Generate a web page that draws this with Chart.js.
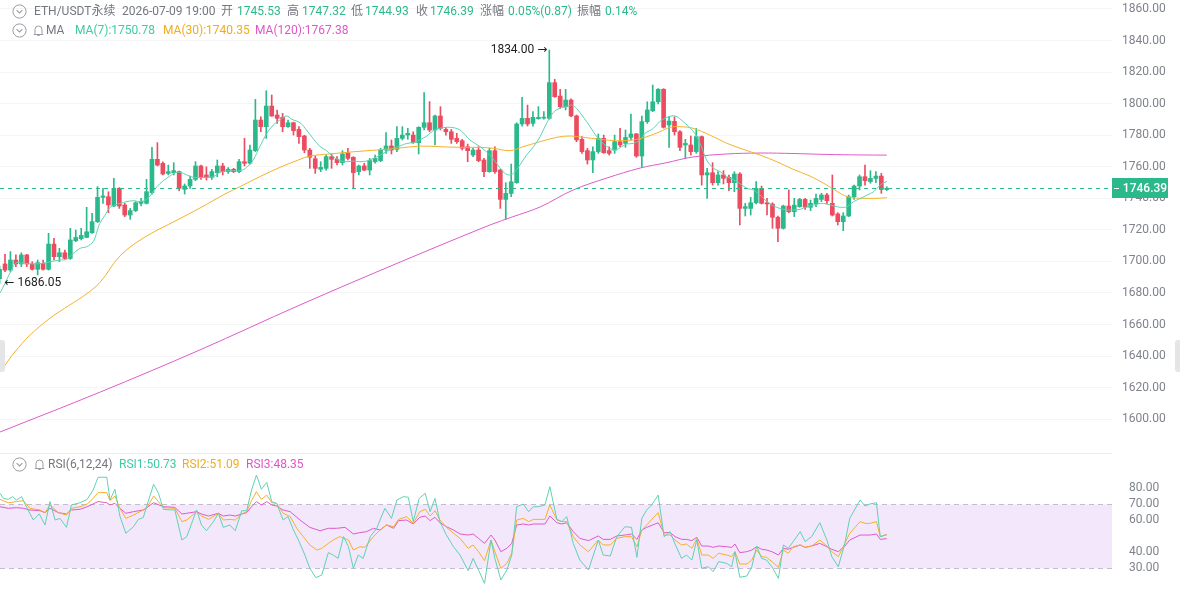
<!DOCTYPE html>
<html><head><meta charset="utf-8">
<script src="https://cdn.jsdelivr.net/npm/chart.js@4.4.1/dist/chart.umd.min.js"></script>
<style>
html,body{margin:0;padding:0;background:#fff;width:1180px;height:590px;overflow:hidden;font-family:Roboto,"Noto Sans CJK SC",sans-serif;}
#mainBox{position:absolute;left:0;top:0;width:1180px;height:452px;}
#rsiBox{position:absolute;left:0;top:452px;width:1180px;height:138px;}
.t{position:absolute;font-size:12px;line-height:14px;white-space:nowrap;color:#74777f;}
.g{color:#2bb98b}.c7{color:#3fcca5}.c30{color:#f2ac1b}.c120{color:#e056c7}
.icon{position:absolute;}
.tab{position:absolute;top:340px;width:5px;height:32px;background:#e4e5e7;}
</style></head>
<body>
<div id="mainBox"><canvas id="main"></canvas></div>
<div id="rsiBox"><canvas id="rsi"></canvas></div>

<svg class="icon" style="left:12px;top:4px" width="15" height="15" viewBox="0 0 15 15"><circle cx="7.5" cy="7.5" r="6.6" fill="none" stroke="#9a9ca3" stroke-width="1"/><polyline points="4.6,6.2 7.5,9 10.4,6.2" fill="none" stroke="#9a9ca3" stroke-width="1.1"/></svg>
<span class="t" style="left:34px;top:4px">ETH/USDT永续</span>
<span class="t" style="left:122px;top:4px">2026-07-09 19:00</span>
<span class="t" style="left:221px;top:4px">开</span><span class="t g" style="left:237px;top:4px">1745.53</span>
<span class="t" style="left:287px;top:4px">高</span><span class="t g" style="left:302px;top:4px">1747.32</span>
<span class="t" style="left:351px;top:4px">低</span><span class="t g" style="left:365px;top:4px">1744.93</span>
<span class="t" style="left:416px;top:4px">收</span><span class="t g" style="left:430px;top:4px">1746.39</span>
<span class="t" style="left:480px;top:4px">涨幅</span><span class="t g" style="left:508px;top:4px">0.05%(0.87)</span>
<span class="t" style="left:577px;top:4px">振幅</span><span class="t g" style="left:605px;top:4px">0.14%</span>

<svg class="icon" style="left:12px;top:23px" width="15" height="15" viewBox="0 0 15 15"><circle cx="7.5" cy="7.5" r="6.6" fill="none" stroke="#9a9ca3" stroke-width="1"/><polyline points="4.6,6.2 7.5,9 10.4,6.2" fill="none" stroke="#9a9ca3" stroke-width="1.1"/></svg>
<svg class="icon" style="left:33px;top:24px" width="11" height="13" viewBox="0 0 11 13"><path d="M2 9.5 V5.5 A3.5 3.5 0 0 1 9 5.5 V9.5 L10 10.5 H1 Z" fill="none" stroke="#9a9ca3" stroke-width="1"/><path d="M4.3 11.5 H6.7" stroke="#9a9ca3" stroke-width="1"/></svg>
<span class="t" style="left:46px;top:23px">MA</span>
<span class="t c7" style="left:75px;top:23px">MA(7):1750.78</span>
<span class="t c30" style="left:163px;top:23px">MA(30):1740.35</span>
<span class="t c120" style="left:255px;top:23px">MA(120):1767.38</span>

<svg class="icon" style="left:12px;top:457px" width="15" height="15" viewBox="0 0 15 15"><circle cx="7.5" cy="7.5" r="6.6" fill="none" stroke="#9a9ca3" stroke-width="1"/><polyline points="4.6,6.2 7.5,9 10.4,6.2" fill="none" stroke="#9a9ca3" stroke-width="1.1"/></svg>
<svg class="icon" style="left:34px;top:458px" width="11" height="13" viewBox="0 0 11 13"><path d="M2 9.5 V5.5 A3.5 3.5 0 0 1 9 5.5 V9.5 L10 10.5 H1 Z" fill="none" stroke="#9a9ca3" stroke-width="1"/><path d="M4.3 11.5 H6.7" stroke="#9a9ca3" stroke-width="1"/></svg>
<span class="t" style="left:48px;top:457px">RSI(6,12,24)</span>
<span class="t c7" style="left:119px;top:457px">RSI1:50.73</span>
<span class="t c30" style="left:182px;top:457px">RSI2:51.09</span>
<span class="t c120" style="left:246px;top:457px">RSI3:48.35</span>

<div class="tab" style="left:0;border-radius:0 3px 3px 0"></div>
<div class="tab" style="left:1175px;border-radius:3px 0 0 3px"></div>

<script>
// ---------- data ----------
const openP = [1689,1698.4,1694.5,1700.9,1698.4,1704.1,1698.4,1695.0,1698.8,1695.0,
1711.0,1703.0,1705.5,1701.9,1713.1,1714.4,1715.2,1718.2,1725.2,1740.6,
1741.0,1735.1,1746.3,1735.8,1729.4,1732.2,1736.8,1736.8,1743.6,1764.7,
1762.2,1755.8,1756.2,1756.9,1745.7,1747.8,1752.0,1760.5,1754.8,1753.3,
1756.2,1760.5,1756.9,1758.4,1756.9,1763.2,1762.2,1770.2,1789.6,1785.4,
1798.5,1792.8,1791.3,1785.4,1787.9,1783.7,1779.5,1770.6,1765.1,1758.4,
1759.0,1766.4,1764.7,1762.6,1768.9,1766.0,1756.9,1760.5,1757.9,1763.2,
1763.9,1770.6,1773.2,1771.0,1778.0,1780.1,1780.1,1775.3,1785.0,1787.9,
1783.3,1792.2,1783.7,1782.2,1778.0,1776.5,1772.7,1767.4,1770.6,1764.3,
1756.9,1770.2,1757.9,1739.3,1743.1,1749.9,1787.1,1790.7,1787.5,1790.5,
1790.8,1790.7,1813.3,1804.8,1798.1,1802.3,1792.2,1777.4,1770.2,1764.3,
1769.6,1778.0,1770.2,1770.6,1775.9,1774.8,1778.6,1780.8,1766.8,1788.6,
1795.5,1801.2,1809.1,1786.5,1788.8,1782.2,1773.8,1773.8,1769.6,1779.1,
1754.8,1756.2,1749.9,1754.8,1753.3,1749.9,1755.4,1733.6,1733.6,1737.2,
1746.3,1737.2,1736.4,1728.0,1721.0,1735.1,1731.5,1734.7,1739.3,1734.3,
1736.4,1739.3,1742.1,1736.8,1730.1,1725.2,1728.8,1741.0,1747.8,1753.7,
1750.6,1752.6,1754.1,1745.53];
const highP = [1697,1704.5,1706.2,1704.1,1705.5,1704.5,1699.8,1700.9,1700.9,1717.8,
1714.6,1708.3,1707.2,1721.0,1719.9,1721.0,1734.3,1730.5,1747.4,1746.3,
1744.2,1752.7,1746.8,1736.8,1733.6,1737.9,1740.0,1752.0,1772.3,1775.3,
1763.2,1761.1,1762.6,1757.3,1749.1,1754.1,1763.2,1761.1,1760.0,1758.4,
1764.3,1762.2,1759.5,1759.0,1764.7,1778.0,1773.8,1802.7,1791.7,1808.2,
1805.5,1796.0,1793.9,1789.6,1788.3,1785.4,1780.0,1771.7,1766.8,1763.2,
1767.4,1768.1,1766.4,1770.2,1771.7,1766.4,1761.1,1762.2,1765.3,1767.4,
1771.7,1781.6,1777.0,1785.4,1785.4,1784.4,1782.2,1785.4,1807.0,1801.3,
1792.8,1798.1,1785.0,1783.7,1781.2,1777.4,1774.4,1771.7,1772.7,1765.3,
1771.7,1772.7,1758.4,1749.9,1761.7,1787.9,1804.0,1799.1,1794.9,1798.1,
1794.9,1834.0,1815.4,1809.1,1809.1,1803.0,1792.8,1779.1,1771.7,1772.7,
1780.8,1780.1,1772.7,1780.1,1784.3,1783.3,1793.4,1781.2,1792.2,1801.2,
1811.8,1809.5,1809.5,1792.0,1791.7,1783.0,1777.4,1779.5,1784.3,1779.5,
1759.0,1762.6,1756.9,1757.5,1754.8,1756.9,1756.3,1736.8,1740.6,1750.6,
1747.8,1740.0,1737.2,1728.8,1735.7,1745.3,1740.0,1740.0,1740.0,1738.9,
1742.7,1743.2,1743.2,1754.8,1730.9,1730.9,1742.1,1748.4,1754.8,1761.1,
1757.5,1756.9,1755.8,1747.32];
const lowP = [1686.05,1693.5,1693.5,1696.7,1696.7,1696.7,1694.5,1691.4,1694.5,1694.5,
1700.9,1699.8,1701.3,1701.3,1712.5,1713.6,1715.0,1717.8,1724.6,1736.8,
1730.9,1734.7,1733.6,1728.4,1726.7,1731.5,1735.1,1736.4,1742.7,1760.5,
1754.8,1754.8,1754.8,1744.8,1742.7,1746.3,1751.2,1752.0,1751.6,1752.0,
1753.7,1754.8,1755.8,1756.3,1756.3,1760.5,1761.7,1769.6,1782.2,1778.0,
1791.9,1787.5,1782.2,1785.0,1780.1,1774.8,1768.9,1759.0,1755.8,1756.9,
1757.9,1759.0,1761.1,1761.1,1764.3,1746.3,1754.8,1757.5,1754.8,1762.2,
1763.2,1768.5,1768.1,1769.6,1777.0,1777.4,1774.8,1768.1,1783.3,1782.2,
1773.8,1783.3,1780.1,1774.8,1774.8,1770.6,1763.2,1766.4,1763.2,1753.7,
1756.5,1755.8,1733.6,1726.7,1741.0,1749.5,1785.8,1785.8,1785.8,1790.1,
1790.1,1790.1,1804.0,1797.0,1796.0,1791.7,1775.9,1768.5,1761.7,1756.2,
1768.5,1768.5,1767.4,1768.5,1772.7,1772.3,1777.0,1766.0,1759.6,1787.5,
1794.9,1799.8,1784.5,1772.3,1780.1,1770.2,1765.3,1767.4,1768.5,1748.4,
1740.0,1748.4,1748.4,1749.1,1744.8,1744.2,1723.1,1728.8,1729.4,1736.4,
1736.4,1729.4,1721.0,1712.5,1720.5,1730.9,1728.4,1734.3,1733.0,1732.2,
1734.7,1737.9,1736.4,1728.8,1723.1,1719.5,1728.4,1739.3,1745.3,1748.4,
1749.5,1749.9,1743.2,1744.93];
const closeP = [1695,1694.5,1700.9,1698.4,1704.1,1698.4,1695.0,1699.2,1695.0,1711.0,
1703.0,1705.5,1701.9,1713.6,1715.2,1716.5,1718.8,1725.2,1740.6,1741.5,
1735.8,1746.3,1735.1,1729.4,1732.2,1737.2,1738.1,1744.2,1764.7,1761.1,
1755.4,1756.9,1757.5,1746.3,1747.8,1752.0,1760.5,1753.3,1753.3,1756.9,
1760.5,1756.9,1758.4,1756.9,1763.2,1762.2,1770.6,1789.6,1785.4,1798.5,
1792.2,1790.7,1785.4,1787.9,1782.9,1779.1,1770.6,1766.0,1759.0,1759.6,
1766.4,1764.7,1762.6,1768.1,1765.3,1756.3,1760.5,1757.9,1763.9,1765.3,
1770.6,1773.2,1770.6,1778.0,1780.1,1781.2,1775.3,1785.0,1787.9,1783.3,
1792.2,1784.4,1782.2,1777.4,1775.9,1771.7,1770.2,1770.6,1763.9,1756.9,
1770.2,1756.9,1739.3,1743.1,1750.5,1787.1,1790.7,1787.1,1791.3,1791.3,
1791.3,1813.3,1804.4,1798.1,1802.3,1792.2,1777.0,1769.6,1764.3,1769.6,
1778.0,1768.9,1768.5,1775.9,1773.8,1778.6,1780.8,1766.8,1788.6,1796.0,
1801.2,1809.1,1785.0,1789.0,1782.2,1772.3,1774.8,1769.6,1779.1,1754.8,
1756.2,1749.9,1754.8,1752.7,1749.9,1755.4,1733.6,1734.7,1737.2,1746.3,
1736.8,1736.4,1728.0,1721.0,1735.1,1731.5,1735.7,1739.3,1734.3,1736.8,
1740.0,1742.1,1738.5,1729.4,1725.2,1728.8,1741.0,1747.8,1753.7,1751.2,
1752.6,1754.1,1745.6,1746.39];

// moving averages: [candle position, value]
const ma7 = [[0.1,1680],[1.0,1686.1],[2.5,1696.7],[3.1,1699.2],[4.4,1698.8],[6.2,1698.4],[8.0,1698.8],[9.3,1699.8],[11.1,1700.9],[12.3,1701.3],[13.2,1704.1],[14.8,1708.3],[16.0,1709.3],[17.2,1712.5],[17.8,1717.8],[18.4,1724.1],[19.4,1729.4],[20.3,1734.3],[21.2,1735.8],[22.1,1736.8],[23.4,1737.9],[24.6,1738.5],[25.8,1737.9],[27.0,1739.3],[27.9,1742.7],[28.9,1747.4],[30.1,1751.2],[31.3,1754.1],[32.2,1756.2],[33.1,1756.5],[34.4,1754.8],[35.6,1753.3],[36.8,1753.1],[38.0,1753.3],[39.3,1753.7],[40.5,1756.5],[42.3,1757.5],[44.2,1757.5],[45.4,1759.6],[46.6,1764.3],[47.8,1772.7],[49.1,1781.2],[50.3,1786.5],[51.5,1789.6],[52.7,1792.2],[53.7,1790.1],[55.2,1787.9],[56.4,1783.3],[57.6,1778.0],[58.9,1772.7],[60.1,1770.2],[61.3,1766.4],[62.5,1763.9],[63.8,1763.2],[65.0,1763.6],[66.2,1763.2],[67.4,1763.6],[68.7,1765.3],[69.9,1767.4],[71.1,1769.6],[72.3,1771.7],[73.6,1773.2],[74.8,1774.8],[76.0,1775.3],[77.2,1777.0],[78.5,1779.5],[79.7,1782.9],[80.9,1784.4],[82.8,1785.0],[84.6,1783.3],[86.4,1777.0],[88.3,1772.7],[90.1,1767.4],[91.3,1762.2],[92.5,1756.9],[93.5,1754.8],[94.4,1755.8],[95.6,1761.1],[96.8,1767.4],[98.1,1772.7],[99.3,1779.1],[100.5,1787.5],[101.7,1794.3],[102.9,1797.0],[104.2,1798.1],[105.1,1799.1],[106.0,1797.0],[107.2,1791.7],[108.5,1785.4],[109.7,1779.1],[110.9,1774.8],[112.1,1771.7],[113.1,1770.6],[114.3,1772.7],[115.2,1774.4],[116.4,1774.8],[117.7,1777.0],[118.6,1781.2],[120.1,1784.3],[121.3,1788.6],[122.6,1791.3],[124.1,1792.2],[125.6,1788.6],[127.5,1782.2],[128.7,1774.8],[129.9,1764.3],[131.2,1759.0],[132.4,1756.9],[133.6,1753.7],[134.9,1751.6],[136.1,1749.1],[137.3,1746.3],[138.5,1745.3],[139.7,1742.1],[141.0,1737.9],[142.2,1735.1],[143.4,1733.6],[144.6,1732.6],[145.9,1732.6],[147.1,1733.0],[148.3,1734.7],[149.6,1735.8],[150.8,1736.8],[152.0,1736.4],[153.3,1735.1],[154.5,1734.3],[155.7,1734.7],[156.9,1737.9],[158.2,1740.0],[159.4,1742.1],[160.6,1744.2],[161.8,1748.4],[163.0,1750.78]];
const ma30 = [[0.1,1629.9],[2.8,1642.6],[5.6,1653.3],[9.3,1664.1],[12.9,1672.4],[15.7,1678.7],[18.5,1686.9],[22.1,1703.4],[26.4,1714.8],[32.6,1726.2],[36.8,1733.8],[41.4,1742.7],[44.2,1747.4],[47.8,1753.7],[51.5,1759.6],[55.2,1764.7],[57.0,1766.8],[60.7,1768.1],[65.0,1769.5],[69.3,1770.6],[73.0,1771.7],[77.2,1773.1],[80.9,1772.7],[84.6,1772.3],[88.3,1772.3],[90.7,1771.7],[93.8,1770.2],[96.2,1772.7],[99.3,1775.9],[102.4,1778.7],[104.8,1779.5],[107.2,1778.7],[110.3,1777.4],[113.4,1776.5],[116.4,1777.0],[118.9,1779.0],[121.3,1782.2],[123.2,1785.0],[125.0,1785.4],[127.4,1784.4],[130.5,1780.1],[133.6,1774.9],[136.6,1771.1],[139.7,1767.4],[142.8,1763.2],[145.8,1758.4],[148.9,1754.1],[152.0,1748.4],[154.4,1743.2],[156.2,1740.6],[158.6,1740.0],[161.2,1740.0],[163,1740.35]];
const ma120 = [[0.1,1591.9],[18.5,1617.2],[36.8,1643.9],[55.2,1672.4],[73.6,1699.6],[90.1,1723.1],[94.3,1728.3],[99.3,1734.5],[105.4,1745.3],[111.6,1752.9],[117.7,1759.2],[122.3,1762.4],[127.4,1766.2],[133.6,1768.1],[139.7,1768.7],[145.8,1768.4],[152.0,1767.8],[158.1,1767.5],[163,1767.38]];

// RSI curves: [candle position, value]
const rsi1 = [[0.08,76.7],[0.69,73.5],[1.61,72.9],[2.41,74.6],[3.14,72.5],[4.06,74.6],[4.67,70],[6.2,60],[7.3,63.8],[8.35,56.9],[9.27,71.5],[10.2,60],[11.1,61],[12.3,55.4],[13.2,69.4],[14.8,70.8],[16.1,72.9],[17.2,78.8],[18.1,86.7],[19.7,86.7],[20.3,72.5],[21.2,79.2],[22.1,62.5],[23.2,51.7],[24.6,55.8],[25.5,60.4],[26.4,61.5],[27.3,71.5],[28.3,82.3],[29.2,76.7],[30.1,66.7],[31.3,66.3],[32.2,66.3],[33.5,47.5],[34.4,49.6],[36.2,66.3],[37.1,56.9],[38.0,53.3],[39.3,59],[40.2,64.2],[41.1,55.4],[42.3,56.9],[43.3,53.3],[44.5,65.8],[45.4,65.8],[46.3,78.8],[47.2,88.1],[48.1,79.2],[49.1,83.5],[50.0,71.5],[50.9,70.4],[52.1,60],[53.0,62.1],[54.0,53.75],[54.9,47.5],[56.1,38.1],[57.0,29.8],[58.1,24],[59.2,25.6],[60.4,39.6],[61.3,38.1],[62.2,36],[63.2,49.6],[64.1,43.3],[65.0,29.8],[65.9,38.1],[66.8,36],[68.1,49.6],[69.3,54.8],[69.9,60],[70.8,67.3],[72.0,61],[73.0,72.5],[74.2,74.6],[75.1,74.2],[76.0,59],[77.1,73.5],[78.2,76.7],[79.1,65.2],[80.0,73.5],[80.9,59],[82.1,50.6],[83.4,43.3],[84.6,38.1],[86.1,28.3],[87.0,36],[88.0,28.75],[89.1,20.4],[90.3,47.5],[91.0,36],[92.1,22.5],[93.2,28.75],[94.1,38.1],[95.0,68.3],[96.2,70],[97.2,65.2],[98.1,68.3],[99.0,68.3],[100.2,69.4],[101.1,80.8],[102.4,60.4],[103.3,59],[104.2,62.1],[105.4,45.4],[106.6,35],[108.2,28.75],[110.0,47.5],[110.9,38.1],[112.2,37.5],[113.4,49.6],[114.9,55.8],[116.1,55.4],[117.1,36.7],[118.0,61],[118.9,66.3],[119.8,69.4],[121.0,75.6],[122.1,49.6],[123.2,52.7],[124.1,45],[125.3,36],[126.2,38.1],[127.2,35],[128.1,47.5],[129.0,29.8],[130.2,30.8],[131.1,27.7],[132.1,34],[133.6,32.9],[134.5,30.8],[135.1,40.2],[136.0,24.2],[137.3,25],[138.2,30.8],[139.1,43.75],[140.0,36],[140.9,35],[141.9,30.8],[143.1,23.5],[144.0,44.4],[144.9,42.3],[145.8,46.5],[147.1,52.7],[148.0,46.5],[149.2,49.6],[150.7,58.3],[152.0,47.5],[152.9,37.1],[154.1,30.8],[155.3,45.4],[156.2,61],[158.1,72.5],[159.0,68.75],[159.9,70],[161.1,70.8],[161.8,49.6],[163,50.73]];
const rsi2 = [[0.08,72.9],[1.61,70.8],[3.14,71.5],[4.37,72.1],[5.59,67.3],[7.43,66.25],[8.35,64.6],[9.27,69.4],[10.8,64.6],[12.3,63.1],[13.2,67.3],[14.8,68.3],[16.1,70],[17.2,73.5],[18.1,77.1],[19.7,77.1],[20.3,72.1],[21.2,75],[22.1,67.3],[23.2,61],[24.6,63.1],[25.8,65.2],[27.0,67.3],[28.3,75],[29.2,71.5],[30.1,67.7],[32.2,67.3],[33.5,59],[34.4,60],[36.2,65.2],[37.1,62.5],[38.4,60.4],[40.2,64.2],[41.1,60],[42.3,60.4],[43.3,60],[44.5,63.75],[45.4,65.2],[46.3,72.1],[47.2,77.7],[48.1,72.9],[49.1,75.6],[50.0,70.8],[50.9,70.4],[52.1,64.2],[53.4,62.1],[54.6,54.8],[55.8,49.6],[57.0,44.4],[58.3,41.25],[59.2,42.3],[60.4,45.4],[61.3,47.5],[62.5,49.6],[64.1,47.5],[65.0,41.25],[66.2,43.3],[67.1,42.9],[68.7,49.6],[69.9,53.75],[71.1,56.9],[72.4,55.8],[73.3,60.4],[74.8,62.1],[76.0,57.9],[77.2,65.2],[78.2,66.7],[79.1,62.5],[80.0,65.8],[80.9,60],[82.1,55.4],[83.4,51.7],[84.6,48.5],[86.1,42.3],[87.0,44.4],[88.0,40.2],[89.1,34.6],[90.3,47.5],[91.0,40.2],[92.1,29.8],[93.2,32.9],[94.1,39.2],[95.0,60],[96.2,61],[97.2,59],[98.1,60.4],[100.2,60.4],[101.1,69.4],[102.4,60],[103.3,59],[104.2,59],[105.4,49.6],[106.6,44.4],[108.2,40.2],[110.0,47.5],[110.9,44.4],[112.2,44.4],[113.4,48.5],[114.9,49.6],[116.1,49.6],[117.1,43.3],[118.0,53.75],[118.9,56.9],[121.0,64.6],[122.1,50.6],[123.2,50.6],[124.1,47.5],[125.3,44.4],[126.2,45],[127.2,42.3],[128.1,48.5],[129.0,38.1],[130.2,38.1],[131.1,36],[132.1,39.2],[133.6,38.1],[134.5,37.1],[135.1,40.2],[136.0,32.5],[137.3,32.5],[138.2,35],[139.1,41.25],[140.0,37.1],[140.9,36.7],[141.9,34],[143.1,30.4],[144.0,41.25],[144.9,39.2],[145.8,43.3],[147.1,44.4],[148.0,42.9],[149.2,43.75],[150.7,47.5],[152.0,43.75],[152.9,40.2],[154.1,37.1],[155.3,45.4],[156.2,51.7],[158.1,59],[159.0,57.9],[159.9,57.9],[161.1,59],[161.8,49.6],[163,51.09]];
const rsi3 = [[0.08,68.3],[1.61,67.3],[3.14,67.7],[4.37,67.3],[5.59,66.25],[7.43,65.8],[8.35,64.6],[9.27,67.3],[10.8,64.6],[12.3,63.75],[13.2,66.25],[14.8,66.7],[16.1,68.3],[18.1,71.5],[19.7,70.8],[20.3,69.4],[21.2,70.4],[22.1,67.3],[23.2,64.2],[24.6,65.2],[26.4,66.25],[28.3,70.8],[30.1,68.3],[32.2,67.9],[33.5,63.75],[34.4,64.2],[36.2,65.2],[37.1,63.75],[38.4,62.5],[40.2,64.2],[41.1,62.5],[42.3,63.1],[43.3,62.5],[44.5,63.75],[45.4,64.6],[46.3,68.3],[47.2,71.5],[48.1,69.4],[49.1,71.5],[50.0,69.4],[50.9,68.75],[52.1,66.25],[53.4,65.2],[55.2,60],[57.0,55.4],[58.9,53.3],[60.4,54.8],[61.9,54.8],[63.5,55.4],[65.0,51.25],[66.2,52.1],[67.4,52.7],[68.7,54.8],[69.9,53.75],[71.1,56.9],[72.4,54.8],[73.3,59.6],[74.8,60],[76.0,57.5],[77.2,61.7],[78.2,62.5],[79.1,59.6],[80.0,61.7],[80.9,58.3],[82.1,55.8],[83.4,53.75],[84.6,51.25],[86.1,50.6],[87.0,51.25],[88.0,48.5],[89.1,45.4],[90.3,50.6],[91.0,47.5],[92.1,40.2],[93.2,42.3],[94.1,45.4],[95.0,56.9],[96.2,57.5],[97.2,56.9],[98.1,57.5],[100.2,57.5],[101.1,62.5],[102.4,58.3],[103.3,57.5],[104.2,58.3],[105.4,52.7],[106.6,48.5],[108.2,47.1],[110.0,50],[110.9,47.9],[112.2,47.9],[113.4,50],[114.9,50.6],[116.1,51.25],[117.1,47.9],[118.0,53.75],[118.9,55.4],[121.0,58.3],[122.1,52.1],[123.2,52.1],[124.1,49.6],[125.3,47.9],[126.2,47.9],[127.2,47.1],[128.1,49.2],[129.0,43.75],[130.2,43.75],[131.1,42.9],[132.1,43.75],[133.6,43.3],[134.5,42.9],[135.1,45],[136.0,39.6],[137.3,40.2],[138.2,41.25],[139.1,43.3],[140.0,41.7],[140.9,41.25],[141.9,40.2],[143.1,38.1],[144.0,42.3],[144.9,41.7],[145.8,42.9],[147.1,44.4],[148.0,42.9],[149.2,43.75],[150.7,45.4],[152.0,43.3],[152.9,41.7],[154.1,40.2],[155.3,43.75],[156.2,47.5],[158.1,50.6],[159.0,50.6],[159.9,50.6],[161.1,51.25],[161.8,47.9],[163,48.35]];

const priceTicks = [1600,1620,1640,1660,1680,1700,1720,1740,1760,1780,1800,1820,1840,1860];
const rsiTicks = [30,40,60,70,80];
const rsiBand = [30,70];

// ---------- styling ----------
const UP = '#2bb98b', DOWN = '#ec4c5f';
const C7 = '#5ed2b3', C30 = '#f4b12b', C120 = '#df5bc8';
const X_MIN = 0.081, X_MAX = 204.38;
const AXIS_W = 68;
const FONT = 'Roboto, "DejaVu Sans", sans-serif';

const idx = closeP.map((_, i) => i);
const colors = idx.map(i => closeP[i] >= openP[i] ? UP : DOWN);
const pts = a => a.map(p => ({x: p[0], y: p[1]}));

function yAxis(min, max, tickVals, pad) {
  return {
    position: 'right', min, max,
    afterBuildTicks: s => { s.ticks = tickVals.map(v => ({value: v})); },
    afterFit: s => { s.width = AXIS_W; s.paddingTop = 0; s.paddingBottom = 0; },
    ticks: { color: '#7f838c', font: {family: FONT, size: 12}, padding: pad, crossAlign: 'center',
             callback: v => Number(v).toFixed(2) },
    grid: { color: 'rgba(0,0,0,0.04)', drawTicks: false },
    border: { display: false }
  };
}
const xAxis = () => ({ type: 'linear', min: X_MIN, max: X_MAX, offset: false, display: false });
const common = {
  animation: false, responsive: true, maintainAspectRatio: false, events: [],
  layout: { padding: 0 },
  plugins: { legend: { display: false }, tooltip: { enabled: false } }
};

const lastClose = closeP[closeP.length - 1];

const mainDeco = {
  id: 'mainDeco',
  afterDatasetsDraw(chart) {
    const {ctx, chartArea: a, scales: {x, y}} = chart;
    ctx.save();
    const py = Math.round(y.getPixelForValue(lastClose)) + 0.5;
    ctx.strokeStyle = UP; ctx.lineWidth = 1; ctx.setLineDash([4, 4]);
    ctx.beginPath(); ctx.moveTo(a.left, py); ctx.lineTo(a.right, py); ctx.stroke();
    ctx.setLineDash([]);
    let hi = -Infinity, hiI = 0, lo = Infinity, loI = 0;
    highP.forEach((v, i) => { if (v > hi) { hi = v; hiI = i; } });
    lowP.forEach((v, i) => { if (v < lo) { lo = v; loI = i; } });
    ctx.font = '12px ' + FONT; ctx.fillStyle = '#222'; ctx.textBaseline = 'middle';
    ctx.textAlign = 'right';
    ctx.fillText(hi.toFixed(2) + ' \u2192', x.getPixelForValue(hiI) - 2, y.getPixelForValue(hi));
    ctx.textAlign = 'left';
    ctx.fillText('\u2190 ' + lo.toFixed(2), x.getPixelForValue(loI) + 5, y.getPixelForValue(lo));
    ctx.restore();
  },
  afterDraw(chart) {
    const {ctx, chartArea: a, scales: {y}} = chart;
    const py = Math.round(y.getPixelForValue(lastClose));
    ctx.save();
    ctx.fillStyle = UP;
    ctx.fillRect(a.right, py - 10, 56, 20);
    ctx.strokeStyle = '#fff'; ctx.lineWidth = 1;
    ctx.beginPath(); ctx.moveTo(a.right + 2, py + 0.5); ctx.lineTo(a.right + 7, py + 0.5); ctx.stroke();
    ctx.fillStyle = '#fff'; ctx.font = '500 12px ' + FONT;
    ctx.textAlign = 'center'; ctx.textBaseline = 'middle';
    ctx.fillText(lastClose.toFixed(2), a.right + 33, py + 0.5);
    ctx.restore();
  }
};

new Chart(document.getElementById('main'), {
  data: {
    datasets: [
      { type: 'line', data: pts(ma7), borderColor: C7, borderWidth: 1, pointRadius: 0, tension: 0.35, order: 0 },
      { type: 'line', data: pts(ma30), borderColor: C30, borderWidth: 1, pointRadius: 0, tension: 0.35, order: 0 },
      { type: 'line', data: pts(ma120), borderColor: C120, borderWidth: 1, pointRadius: 0, tension: 0.35, order: 0 },
      { type: 'bar', data: idx.map(i => ({x: i, y: [openP[i], closeP[i]]})), backgroundColor: colors,
        grouped: false, categoryPercentage: 1, barPercentage: 1, maxBarThickness: 4, minBarLength: 1, order: 1 },
      { type: 'bar', data: idx.map(i => ({x: i, y: [lowP[i], highP[i]]})), backgroundColor: colors,
        grouped: false, categoryPercentage: 1, barPercentage: 1, maxBarThickness: 1, order: 2 }
    ]
  },
  options: Object.assign({}, common, {
    scales: { x: xAxis(), y: yAxis(1579.2, 1865.7, priceTicks, 10) }
  }),
  plugins: [mainDeco]
});

const rsiDeco = {
  id: 'rsiDeco',
  beforeDatasetsDraw(chart) {
    const {ctx, chartArea: a, scales: {y}} = chart;
    const yt = Math.round(y.getPixelForValue(rsiBand[1])) + 0.5;
    const yb = Math.round(y.getPixelForValue(rsiBand[0])) + 0.5;
    ctx.save();
    ctx.fillStyle = '#f3e7fc';
    ctx.fillRect(a.left, yt, a.right - a.left, yb - yt);
    ctx.strokeStyle = '#c4bccc'; ctx.lineWidth = 1; ctx.setLineDash([5, 4]);
    ctx.beginPath(); ctx.moveTo(a.left, yt); ctx.lineTo(a.right, yt);
    ctx.moveTo(a.left, yb); ctx.lineTo(a.right, yb); ctx.stroke();
    ctx.setLineDash([]);
    ctx.strokeStyle = '#ececee';
    ctx.beginPath(); ctx.moveTo(a.left, 1.5); ctx.lineTo(a.right, 1.5); ctx.stroke();
    ctx.restore();
  }
};

new Chart(document.getElementById('rsi'), {
  data: {
    datasets: [
      { type: 'line', data: pts(rsi1), borderColor: C7, borderWidth: 1, pointRadius: 0, tension: 0 },
      { type: 'line', data: pts(rsi2), borderColor: C30, borderWidth: 1, pointRadius: 0, tension: 0 },
      { type: 'line', data: pts(rsi3), borderColor: C120, borderWidth: 1, pointRadius: 0, tension: 0 }
    ]
  },
  options: Object.assign({}, common, {
    scales: { x: xAxis(), y: Object.assign(yAxis(16.25, 102.5, rsiTicks, 9), { grid: { display: false } }) }
  }),
  plugins: [rsiDeco]
});
</script>
</body></html>
